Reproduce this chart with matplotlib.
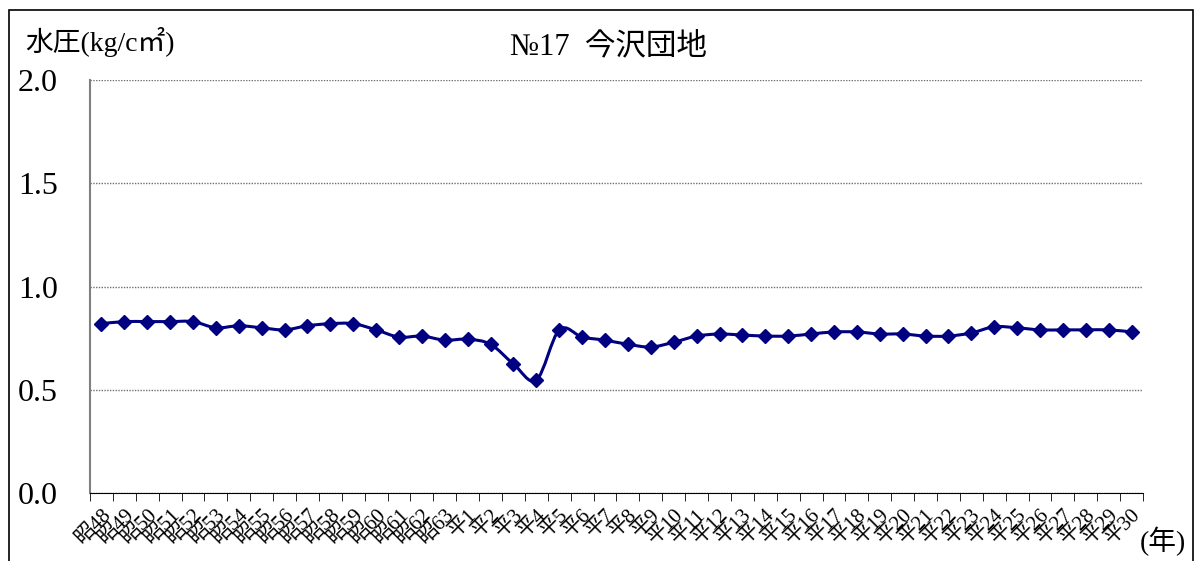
#!/usr/bin/env python3
""" water pressure at No.17 Imazawa housing estate, 昭48-平30 """
import numpy as np
import matplotlib.pyplot as plt
from matplotlib.path import Path
from matplotlib.patches import PathPatch, Rectangle

years = ["昭" + str(n) for n in range(48, 64)] + ["平" + str(n) for n in range(1, 31)]
pressure = [0.82, 0.83, 0.83, 0.83, 0.83, 0.80, 0.81, 0.80, 0.79, 0.81,
            0.82, 0.82, 0.79, 0.755, 0.76, 0.74,
            0.745, 0.72, 0.625, 0.547, 0.79, 0.755, 0.74, 0.72, 0.707, 0.73,
            0.76, 0.77, 0.765, 0.76, 0.76, 0.77, 0.78, 0.78, 0.77, 0.77,
            0.76, 0.76, 0.775, 0.805, 0.80, 0.79, 0.79, 0.79, 0.79, 0.78]
yticks = [0.0, 0.5, 1.0, 1.5, 2.0]

serif = ['Liberation Serif', 'Noto Sans CJK JP']
navy = '#000080'


def smooth_path(x, y, t=1 / 6):
    # Excel-style smoothed line: cubic bezier segments with Catmull-Rom handles
    x = np.asarray(x, float)
    y = np.asarray(y, float)
    verts = [(x[0], y[0])]
    codes = [Path.MOVETO]
    n = len(x)
    for i in range(n - 1):
        p0 = i - 1 if i > 0 else i
        p3 = i + 2 if i + 2 < n else i + 1
        c1 = (x[i] + (x[i + 1] - x[p0]) * t, y[i] + (y[i + 1] - y[p0]) * t)
        c2 = (x[i + 1] - (x[p3] - x[i]) * t, y[i + 1] - (y[p3] - y[i]) * t)
        verts += [c1, c2, (x[i + 1], y[i + 1])]
        codes += [Path.CURVE4] * 3
    return Path(verts, codes)


fig = plt.figure(figsize=(12.03, 5.61), dpi=100)
fig.patches.append(Rectangle((9 / 1203, -0.1), 1184 / 1203, 1.1 - 10 / 561,
                             transform=fig.transFigure, fill=False,
                             edgecolor='black', linewidth=1.2))

ax = fig.add_axes([90 / 1203, 1 - 493 / 561, 1053 / 1203, 413 / 561])
xs = np.arange(len(years))

ax.add_patch(PathPatch(smooth_path(xs, pressure), facecolor='none',
                       edgecolor=navy, linewidth=2.2, zorder=3))
ax.plot(xs, pressure, linestyle='none', marker='D', markersize=7.5,
        color=navy, zorder=4)

ax.set_xlim(-0.5, len(years) - 0.5)
ax.set_ylim(0, 2.0)
ax.set_yticks(yticks)
ax.set_yticklabels([f"{v:.1f}" for v in yticks], family=serif, fontsize=23)
ax.yaxis.grid(True, linestyle=(0, (1, 1)), color='#707070', linewidth=1)
ax.tick_params(axis='y', length=0, pad=23)

ax.set_xticks(xs)
ax.set_xticklabels(years, rotation=45, ha='right', va='top',
                   rotation_mode='anchor', family=serif, fontsize=15)
ax.set_xticks(np.arange(len(years) + 1) - 0.5, minor=True)
ax.tick_params(axis='x', which='major', length=0, pad=9)
ax.tick_params(axis='x', which='minor', length=6, direction='out', color='black')

ax.spines['top'].set_visible(False)
ax.spines['right'].set_visible(False)
ax.spines['left'].set_color('#808080')
ax.spines['left'].set_linewidth(1.5)
ax.spines['bottom'].set_color('black')

fig.text(25 / 1203, 1 - 42 / 561, "水圧(kg/c㎡)", family=serif, fontsize=20,
         va='center', ha='left')
fig.text(608 / 1203, 1 - 47 / 561, "№17  今沢団地", family=serif, fontsize=22,
         va='center', ha='center')
fig.text(1163 / 1203, 1 - 541 / 561, "(年)", family=serif, fontsize=20,
         va='center', ha='center')

fig.savefig("out.png", dpi=100)
